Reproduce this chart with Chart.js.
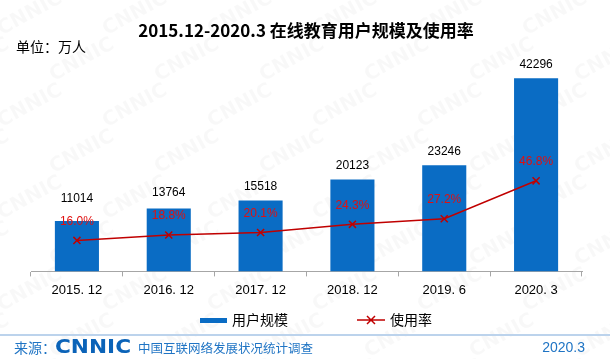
<!DOCTYPE html>
<html>
<head>
<meta charset="utf-8">
<script src="https://cdn.jsdelivr.net/npm/chart.js@4.4.0/dist/chart.umd.min.js"></script>
<style>
  html, body { margin: 0; padding: 0; background: #fff; }
  #wrap { width: 610px; height: 359px; position: relative; }
</style>
</head>
<body>
<div id="wrap"><canvas id="eduChart" width="610" height="359"></canvas></div>
<script>
// data
var periods = ["2015. 12", "2016. 12", "2017. 12", "2018. 12", "2019. 6", "2020. 3"];
var users = [11014, 13764, 15518, 20123, 23246, 42296];
var usageRate = [16.0, 18.8, 20.1, 24.3, 27.2, 46.8];

var chartTitle = "2015.12-2020.3 在线教育用户规模及使用率";
var unitText = "单位：万人";
var seriesNames = ["用户规模", "使用率"];
var sourceText = "中国互联网络发展状况统计调查";
var dateText = "2020.3";

var blue = "#0a6cc4";
var red = "#c00000";
var cjk = "'Noto Sans CJK SC', 'Noto Sans', sans-serif";

// faint CNNIC watermark behind everything
var watermark = {
  id: 'watermark',
  beforeDraw: function(chart) {
    var ctx = chart.ctx;
    ctx.save();
    ctx.fillStyle = "#fff";
    ctx.fillRect(0, 0, chart.width, chart.height);
    ctx.fillStyle = "rgba(0,0,0,0.028)";
    ctx.font = "bold 20px 'DejaVu Sans', sans-serif";
    ctx.textAlign = "center";
    ctx.textBaseline = "middle";
    for (var row = -1; row < 9; row++) {
      for (var col = -1; col < 7; col++) {
        var x = col * 105 + (row % 2) * 52 + 30;
        var y = row * 46 + 14;
        ctx.save();
        ctx.translate(x, y);
        ctx.rotate(-0.5);
        ctx.fillText("CNNIC", 0, 0);
        ctx.restore();
      }
    }
    ctx.restore();
  }
};

// value labels, legend, title and footer
var decorations = {
  id: 'decorations',
  afterDatasetsDraw: function(chart) {
    var ctx = chart.ctx;
    var barMeta = chart.getDatasetMeta(0);
    var lineMeta = chart.getDatasetMeta(1);
    ctx.save();
    ctx.textAlign = "center";
    ctx.textBaseline = "middle";
    ctx.font = "12px 'Liberation Sans', Arial, sans-serif";
    for (var i = 0; i < users.length; i++) {
      var bar = barMeta.data[i];
      var pt = lineMeta.data[i];
      var pctY = pt.y - 19;
      var numY = Math.min(bar.y - 14, pctY - 23);
      ctx.fillStyle = "#000";
      ctx.fillText(String(users[i]), bar.x, numY);
      ctx.fillStyle = "#e01010";
      ctx.fillText(usageRate[i].toFixed(1) + "%", pt.x, pctY);
    }
    ctx.restore();
  },
  afterDraw: function(chart) {
    var ctx = chart.ctx;
    ctx.save();
    ctx.textBaseline = "middle";

    // title
    ctx.fillStyle = "#000";
    ctx.textAlign = "center";
    ctx.font = "bold 17px " + cjk;
    ctx.fillText(chartTitle, 306, 31);

    ctx.textAlign = "left";
    ctx.font = "14px " + cjk;
    ctx.fillText(unitText, 16, 47);

    // legend
    ctx.fillStyle = blue;
    ctx.fillRect(200, 318, 27, 5);
    ctx.fillStyle = "#000";
    ctx.font = "14px " + cjk;
    ctx.fillText(seriesNames[0], 232, 320);

    ctx.strokeStyle = red;
    ctx.lineWidth = 1.5;
    ctx.beginPath();
    ctx.moveTo(357, 320);
    ctx.lineTo(385, 320);
    ctx.moveTo(367, 316);
    ctx.lineTo(375, 324);
    ctx.moveTo(375, 316);
    ctx.lineTo(367, 324);
    ctx.stroke();
    ctx.fillText(seriesNames[1], 390, 320);

    // footer
    ctx.strokeStyle = "#bcd3ec";
    ctx.lineWidth = 2;
    ctx.beginPath();
    ctx.moveTo(0, 335);
    ctx.lineTo(610, 335);
    ctx.stroke();

    ctx.fillStyle = "#1f74c4";
    ctx.font = "14px " + cjk;
    ctx.fillText("来源：", 14, 348);

    ctx.font = "bold 20px 'DejaVu Sans', sans-serif";
    var w = ctx.measureText("CNNIC").width;
    ctx.save();
    ctx.translate(55, 348);
    ctx.scale(76 / w, 1);
    ctx.fillStyle = "#0b63b8";
    ctx.fillText("CNNIC", 0, 0);
    ctx.restore();

    ctx.fillStyle = "#1f74c4";
    ctx.font = "12.5px " + cjk;
    ctx.fillText(sourceText, 138, 348);

    ctx.textAlign = "right";
    ctx.font = "14px 'Liberation Sans', Arial, sans-serif";
    ctx.fillText(dateText, 585, 348);
    ctx.restore();
  }
};

function buildEduChart() {
  var ctx = document.getElementById('eduChart');

  var myChart = new Chart(ctx, {
    type: 'bar',
    data: {
      labels: periods,
      datasets: [{
        type: 'bar',
        label: seriesNames[0],
        data: users,
        backgroundColor: blue,
        barPercentage: 0.48,
        categoryPercentage: 1,
        yAxisID: 'y',
        order: 2
      }, {
        type: 'line',
        label: seriesNames[1],
        data: usageRate,
        borderColor: red,
        borderWidth: 1.5,
        pointStyle: 'crossRot',
        pointRadius: 5,
        pointBorderColor: red,
        pointBorderWidth: 1.5,
        fill: false,
        tension: 0,
        yAxisID: 'y1',
        order: 1
      }]
    },
    options: {
      responsive: false,
      animation: false,
      layout: {
        padding: { left: 31, right: 28, top: 43, bottom: 55 }
      },
      plugins: {
        legend: { display: false },
        title: { display: false },
        tooltip: { enabled: false }
      },
      scales: {
        x: {
          offset: true,
          border: { display: true, color: "#a6a6a6", width: 1 },
          grid: {
            offset: true,
            drawOnChartArea: false,
            drawTicks: true,
            tickLength: 5,
            color: "#a6a6a6"
          },
          ticks: {
            color: "#000",
            padding: 6,
            font: { family: "'Liberation Sans', Arial, sans-serif", size: 13 }
          }
        },
        y: { display: false, min: 0, max: 50000 },
        y1: { display: false, min: 0, max: 118, position: 'right' }
      }
    },
    plugins: [watermark, decorations]
  });
}

buildEduChart();
</script>
</body>
</html>
